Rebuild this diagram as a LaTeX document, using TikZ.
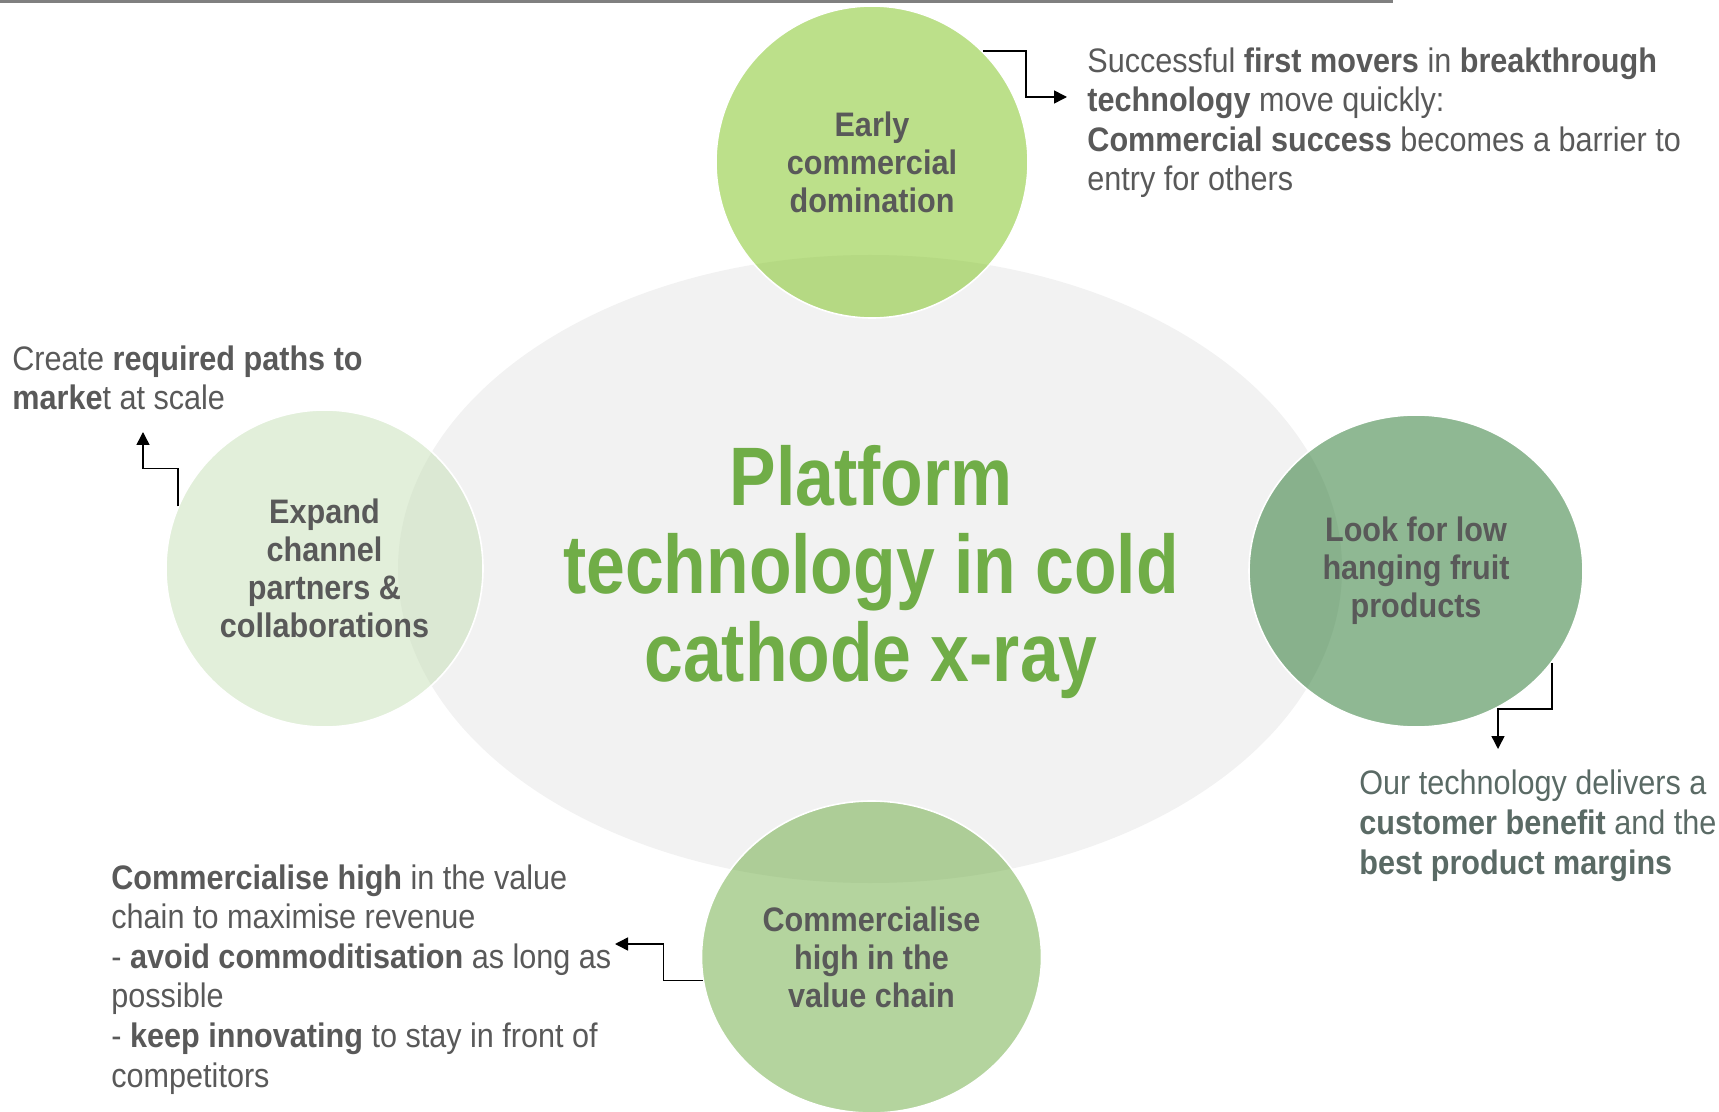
\documentclass[tikz,border=0pt]{standalone}
\usepackage{fontspec}
\setmainfont{Liberation Sans}[FakeStretch=0.9]
\newfontfamily\titlefont{Liberation Sans}[FakeStretch=0.84]
\usetikzlibrary{shapes.geometric,arrows.meta}
\definecolor{coregray}{RGB}{242,242,242}
\definecolor{ctop}{RGB}{121,193,21}
\definecolor{cleft}{RGB}{197,223,181}
\definecolor{cright}{RGB}{31,113,39}
\definecolor{cbot}{RGB}{105,169,61}
\definecolor{txtgray}{RGB}{89,89,89}
\definecolor{txtteal}{RGB}{90,106,101}
\definecolor{titlegreen}{RGB}{112,173,71}
\definecolor{rulegray}{RGB}{128,128,128}
\tikzset{
  bubble/.style={inner sep=0pt, fill opacity=0.5, text opacity=1, draw=white, draw opacity=1,
    line width=0.8pt, align=center, text=txtgray,
    font=\fontsize{17}{19}\selectfont\bfseries},
  note/.style={inner sep=0pt, anchor=base west, align=left, text=txtgray,
    font=\fontsize{17}{19.8}\selectfont},
  conn/.style={draw=black, line width=0.75pt, -{Triangle[length=6.5pt,width=6.5pt]}}
}
\begin{document}
\begin{tikzpicture}[x=0.5pt,y=-0.5pt]
\useasboundingbox (0,0) rectangle (1719,1112);
% top rule
\draw[rulegray, line width=1.3pt] (0,1.3) -- (1393,1.3);
% core ellipse
\node[ellipse, fill=coregray, inner sep=0pt, minimum width=472pt, minimum height=314pt] (core) at (870,569) {};
% bubbles
\node[bubble, circle, fill=ctop, minimum size=156pt] (top) at (872,162) {Early\\commercial\\domination};
\node[bubble, circle, fill=cleft, minimum size=158.5pt] (left) at (324.5,568.5) {Expand\\channel\\partners \&\\collaborations};
\node[bubble, ellipse, fill=cright, minimum width=167pt, minimum height=156pt] (right) at (1416,571) {Look for low\\hanging fruit\\products};
\node[bubble, ellipse, fill=cbot, minimum width=170pt, minimum height=156pt] (bot) at (871.5,957) {Commercialise\\high in the\\value chain};
% title
\node[inner sep=0pt, align=center, text=titlegreen, font=\titlefont\fontsize{41.5}{44}\selectfont\bfseries] (title) at (871,572)
  {Platform\\technology in cold\\cathode x-ray};
% annotations (anchored at the baseline of their last line)
\node[note] (noteA) at (1087,191) {Successful \textbf{first movers} in \textbf{breakthrough}\\\textbf{technology} move quickly:\\\textbf{Commercial success} becomes a barrier to\\entry for others};
\node[note] (noteB) at (12,410) {Create \textbf{required paths to}\\\textbf{marke}t at scale};
\node[note, text=txtteal] (noteC) at (1359,874) {Our technology delivers a\\\textbf{customer benefit} and the\\\textbf{best product margins}};
\node[note] (noteD) at (111,1087) {\textbf{Commercialise high} in the value\\chain to maximise revenue\\- \textbf{avoid commoditisation} as long as\\possible\\- \textbf{keep innovating} to stay in front of\\competitors};
% arrow tips
\coordinate (tipA) at (1067,97);
\coordinate (tipB) at (143,432);
\coordinate (tipC) at (1498,749);
\coordinate (tipD) at (615,944);
% connectors
\draw[conn] (top.45) -- ++(43,0) |- (tipA);
\draw[conn] (left.157) -- ++(0,-38) -| (tipB);
\draw[conn] (right.-34) -- ++(0,46) -| (tipC);
\draw[conn] (bot.188) -- ++(-39,0) |- (tipD);
\end{tikzpicture}
\end{document}
